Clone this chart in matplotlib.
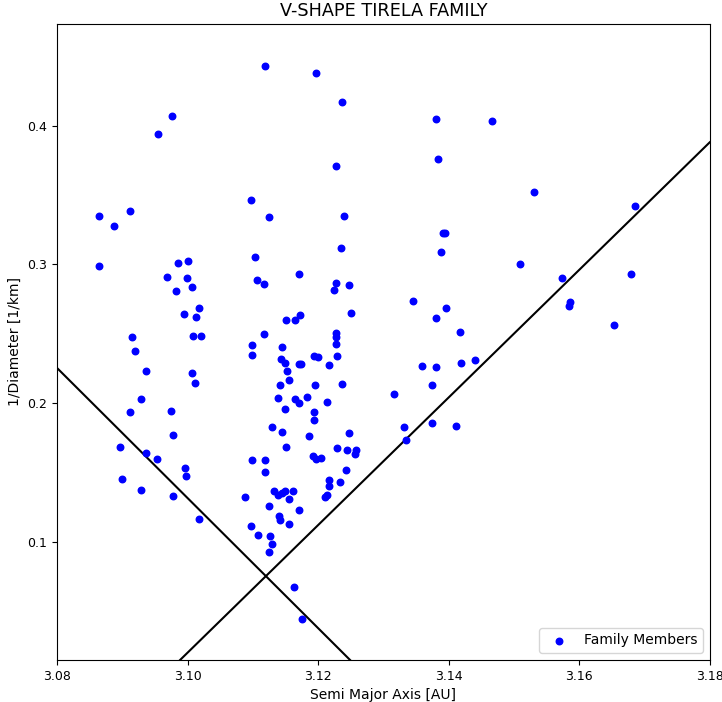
import numpy as np
import matplotlib
matplotlib.use("Agg")
import matplotlib.pyplot as plt

# semi major axis [AU] of the family members
semi_major_axis = [
    3.0864, 3.0864, 3.0887, 3.0912, 3.0915, 3.0920, 3.0912, 3.0928, 3.0937, 3.0936,
    3.0897, 3.0899, 3.0929, 3.0953, 3.0955, 3.0976, 3.0968, 3.0985, 3.0983, 3.0974,
    3.0978, 3.0978, 3.0996, 3.0998, 3.0995, 3.1001, 3.0999, 3.1007, 3.1013, 3.1018,
    3.1021, 3.1008, 3.1007, 3.1012, 3.1018,
    3.1118, 3.1197, 3.1237, 3.1227, 3.1097, 3.1125, 3.1239, 3.1235, 3.1104, 3.1106,
    3.1117, 3.1170, 3.1227, 3.1225, 3.1247, 3.1251, 3.1151, 3.1165, 3.1173, 3.1117,
    3.1099, 3.1098, 3.1145, 3.1227, 3.1228, 3.1227, 3.1143, 3.1150, 3.1193, 3.1200,
    3.1229, 3.1170, 3.1174, 3.1217, 3.1153, 3.1155, 3.1141, 3.1195, 3.1237, 3.1139,
    3.1164, 3.1170, 3.1183, 3.1213, 3.1149, 3.1194, 3.1194, 3.1129, 3.1144, 3.1186,
    3.1248, 3.1151, 3.1229, 3.1245, 3.1258, 3.1256, 3.1099, 3.1119, 3.1119, 3.1192,
    3.1196, 3.1204, 3.1242, 3.1216, 3.1234, 3.1216, 3.1214, 3.1211, 3.1132, 3.1139,
    3.1145, 3.1150, 3.1162, 3.1155, 3.1088, 3.1124, 3.1140, 3.1142, 3.1170, 3.1155,
    3.1097, 3.1108, 3.1127, 3.1130, 3.1125, 3.1163, 3.1176,
    3.1381, 3.1466, 3.1383, 3.1531, 3.1391, 3.1394, 3.1389, 3.1509, 3.1346, 3.1396,
    3.1381, 3.1418, 3.1359, 3.1380, 3.1419, 3.1441, 3.1375, 3.1317, 3.1331, 3.1375,
    3.1412, 3.1335, 3.1686, 3.1573, 3.1680, 3.1586, 3.1585, 3.1654,
]

# inverse diameter [1/km]
inv_diameter = [
    0.3350, 0.2988, 0.3278, 0.3386, 0.2476, 0.2375, 0.1939, 0.2029, 0.2235, 0.1642,
    0.1685, 0.1456, 0.1375, 0.1598, 0.3939, 0.4069, 0.2908, 0.3012, 0.2812, 0.1947,
    0.1774, 0.1334, 0.1536, 0.1478, 0.2642, 0.3028, 0.2903, 0.2836, 0.2622, 0.2689,
    0.2487, 0.2487, 0.2221, 0.2146, 0.1168,
    0.4432, 0.4381, 0.4172, 0.3711, 0.3466, 0.3341, 0.3348, 0.3118, 0.3053, 0.2889,
    0.2858, 0.2934, 0.2870, 0.2819, 0.2855, 0.2653, 0.2603, 0.2603, 0.2634, 0.2497,
    0.2420, 0.2346, 0.2408, 0.2509, 0.2480, 0.2428, 0.2322, 0.2288, 0.2343, 0.2332,
    0.2343, 0.2286, 0.2286, 0.2278, 0.2231, 0.2166, 0.2132, 0.2134, 0.2141, 0.2040,
    0.2033, 0.2004, 0.2045, 0.2012, 0.1959, 0.1939, 0.1880, 0.1831, 0.1793, 0.1764,
    0.1788, 0.1683, 0.1674, 0.1660, 0.1660, 0.1634, 0.1589, 0.1589, 0.1503, 0.1622,
    0.1601, 0.1603, 0.1517, 0.1449, 0.1435, 0.1402, 0.1341, 0.1322, 0.1370, 0.1337,
    0.1355, 0.1368, 0.1368, 0.1308, 0.1324, 0.1257, 0.1190, 0.1161, 0.1229, 0.1132,
    0.1113, 0.1053, 0.1045, 0.0983, 0.0930, 0.0673, 0.0445,
    0.4052, 0.4033, 0.3764, 0.3523, 0.3230, 0.3230, 0.3089, 0.3004, 0.2740, 0.2689,
    0.2613, 0.2514, 0.2269, 0.2260, 0.2288, 0.2314, 0.2132, 0.2067, 0.1827, 0.1856,
    0.1834, 0.1735, 0.3422, 0.2901, 0.2934, 0.2728, 0.2702, 0.2565,
]

# V-shape borders: apex and slopes of the two branches
apex_a = 3.112
apex_y = 0.0753
slope_left = -4.69
slope_right = 4.60

fig, ax = plt.subplots(figsize=(7.22, 7.02), dpi=100)
fig.subplots_adjust(left=0.079, right=0.983, bottom=0.06, top=0.966)

ax.scatter(semi_major_axis, inv_diameter, s=22, color="blue", label="Family Members", zorder=3)

a_grid = np.linspace(3.08, 3.18, 200)
ax.plot(a_grid, apex_y + slope_left * (a_grid - apex_a), color="black", lw=1.5)
ax.plot(a_grid, apex_y + slope_right * (a_grid - apex_a), color="black", lw=1.5)

ax.set_xlim(3.08, 3.18)
ax.set_ylim(0.0149, 0.4735)
ax.set_xticks([3.08, 3.10, 3.12, 3.14, 3.16, 3.18])
ax.set_yticks([0.1, 0.2, 0.3, 0.4])

ax.set_title("V-SHAPE TIRELA FAMILY", fontsize=12.7)
ax.set_xlabel("Semi Major Axis [AU]", fontsize=10)
ax.set_ylabel("1/Diameter [1/km]", fontsize=10)
ax.tick_params(labelsize=9)
ax.legend(loc="lower right", fontsize=10)

fig.savefig("out.png")
